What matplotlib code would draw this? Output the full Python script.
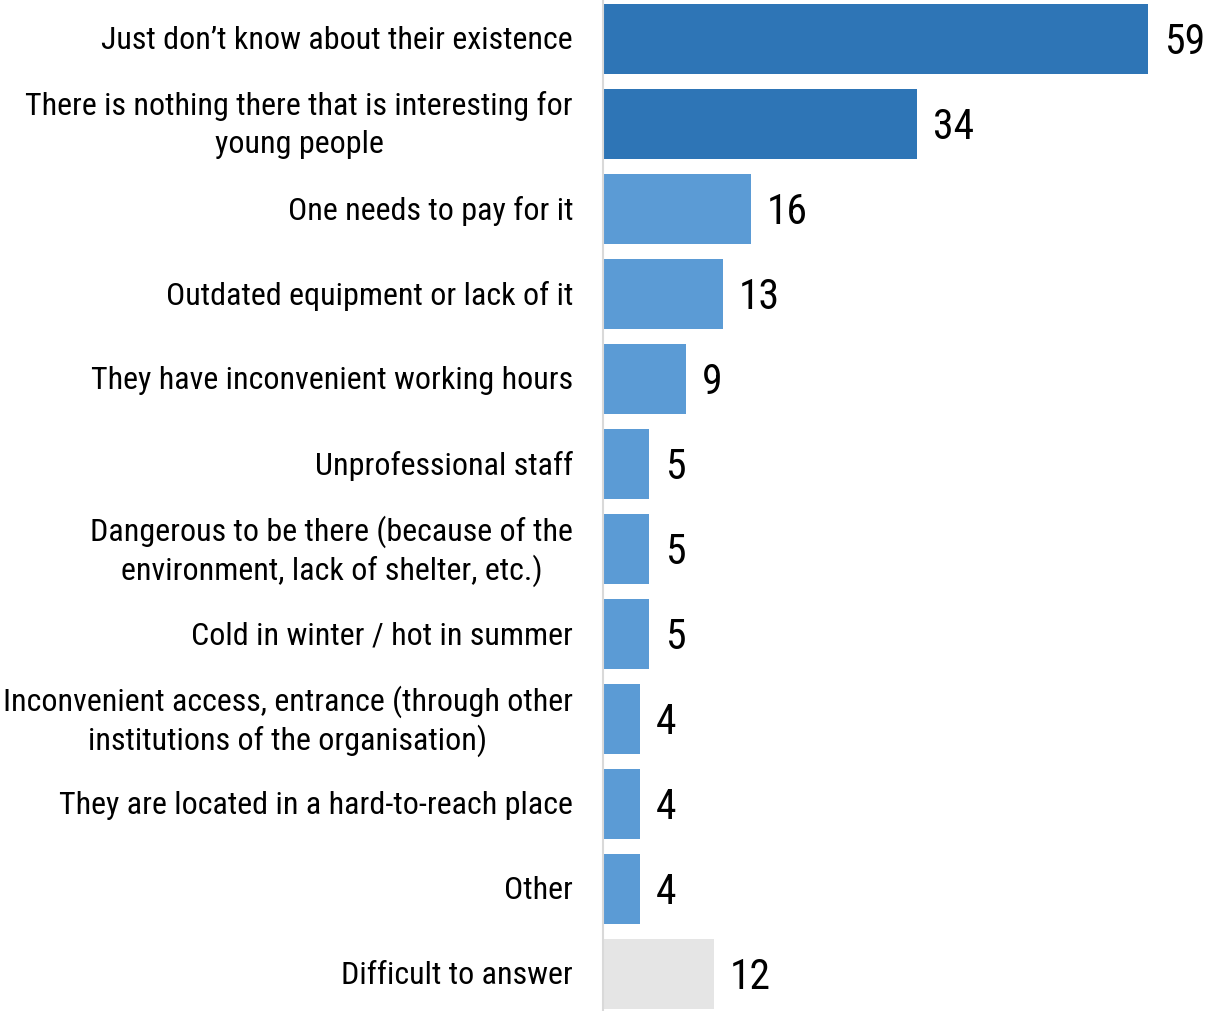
import matplotlib
matplotlib.use("Agg")
import matplotlib.pyplot as plt
from matplotlib import font_manager

# Reasons young people give for not using the facilities (% of respondents)
reasons = [
    "Just don\u2019t know about their existence",
    "There is nothing there that is interesting for\nyoung people",
    "One needs to pay for it",
    "Outdated equipment or lack of it",
    "They have inconvenient working hours",
    "Unprofessional staff",
    "Dangerous to be there (because of the\nenvironment, lack of shelter, etc.)",
    "Cold in winter / hot in summer",
    "Inconvenient access, entrance (through other\ninstitutions of the organisation)",
    "They are located in a hard-to-reach place",
    "Other",
    "Difficult to answer",
]
shares = [59, 34, 16, 13, 9, 5, 5, 5, 4, 4, 4, 12]
groups = ["top", "top", "rest", "rest", "rest", "rest", "rest", "rest",
          "rest", "rest", "rest", "none"]

palette = {"top": "#2E75B6", "rest": "#5B9BD5", "none": "#E5E5E5"}

installed = {f.name for f in font_manager.fontManager.ttflist}
family = "DejaVu Sans"
for cand in ["Roboto Condensed", "Liberation Sans Narrow", "Roboto"]:
    if cand in installed:
        family = cand
        break
plt.rcParams["font.family"] = [family, "DejaVu Sans"]

fig = plt.figure(figsize=(12.06, 10.11), dpi=100)
ax = fig.add_axes([603 / 1206, 0, 603 / 1206, 1])

ypos = list(range(len(reasons)))
ax.barh(ypos, shares, height=70 / 85,
        color=[palette[g] for g in groups], zorder=2)

ax.set_xlim(0, 603 / 9.24)
ax.set_ylim(11 + 37 / 85, -0.5 + 3.5 / 85)

for y, v in zip(ypos, shares):
    ax.text(v + 1.7, y + 0.04, str(v), va="center", ha="left",
            fontsize=30, color="#000000")

# category labels: right-aligned block, lines centred on each other,
# fixed line pitch so parentheses don't stretch the spacing
ax.set_yticks([])
ax.set_xticks([])
renderer = fig.canvas.get_renderer()
trans = ax.get_yaxis_transform()
pad_px = 30
pitch_px = 38.5
for y, label in zip(ypos, reasons):
    lines = label.split("\n")
    n = len(lines)
    texts = []
    for k, line in enumerate(lines):
        dy = ((n - 1) / 2 - k) * pitch_px + 1.5
        t = ax.annotate(line, xy=(0, y), xycoords=trans,
                        xytext=(0, dy), textcoords="offset pixels",
                        ha="center", va="center_baseline",
                        fontsize=23, color="#000000", annotation_clip=False)
        texts.append(t)
    wmax = max(t.get_window_extent(renderer).width for t in texts)
    for t in texts:
        t.xyann = (-pad_px - wmax / 2, t.xyann[1])

for side in ["top", "right", "bottom"]:
    ax.spines[side].set_visible(False)
ax.spines["left"].set_color("#D9D9D9")
ax.spines["left"].set_linewidth(1.5)

fig.savefig("out.png", dpi=100)
